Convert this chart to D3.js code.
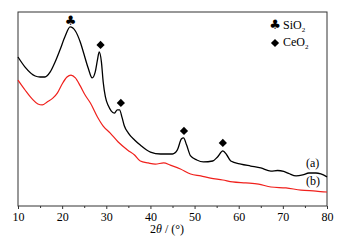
<!DOCTYPE html>
<html>
<head>
<meta charset="utf-8">
<script src="https://cdn.jsdelivr.net/npm/d3@7"></script>
<style>
	body { margin: 0; background: #fff; }
	text { font-family: "Liberation Serif", "Times New Roman", serif; fill: #000; }
</style>
</head>
<body>
<div id="chart"></div>
<script>
// 2theta (deg) vs intensity (a.u.)
const curveA = [
	[10, 76.8], [11.6, 71.6], [13.9, 67.0], [15.0, 66.5], [16.1, 66.5], [17.3, 69.1],
	[18.4, 74.2], [19.5, 80.4], [20.7, 87.6], [21.8, 92.3], [23.0, 90.2], [24.1, 84.5],
	[24.8, 79.4], [25.9, 71.1], [26.8, 66.0], [27.5, 69.1], [28.0, 75.3], [28.4, 79.4],
	[28.9, 74.2], [29.3, 63.9], [29.8, 56.2], [30.5, 51.5], [31.1, 49.0], [31.8, 47.9],
	[32.5, 49.5], [33.0, 49.5], [33.6, 45.4], [34.1, 41.2], [35.0, 37.6], [36.4, 34.0],
	[37.7, 31.4], [40.0, 27.8], [42.3, 26.8], [45.0, 26.8], [46.1, 28.9], [47.0, 34.5],
	[47.5, 35.1], [48.2, 31.4], [49.1, 25.8], [50.5, 23.7], [52.0, 22.7], [54.1, 23.2],
	[55.2, 25.3], [56.4, 28.4], [57.3, 26.3], [58.2, 23.2], [60.5, 21.6], [62.7, 20.6],
	[65.0, 19.6], [67.3, 18.0], [68.8, 18.3], [70.2, 17.8], [71.3, 16.8], [73.0, 15.5],
	[74.5, 16.0], [75.9, 17.0], [77.5, 17.0], [78.6, 16.5], [80.0, 15.0]
]
const curveB = [
	[10, 64.9], [11.6, 59.8], [13.2, 55.2], [14.5, 52.6], [15.5, 52.1], [16.6, 53.6],
	[17.95, 55.7], [18.9, 58.2], [20.0, 62.9], [21.1, 66.5], [22.0, 67.5], [23.0, 66.0],
	[24.1, 61.9], [25.2, 57.2], [26.4, 53.1], [28.0, 45.9], [29.3, 41.2], [30.9, 37.6],
	[32.7, 33.0], [34.8, 28.9], [36.4, 26.3], [37.7, 23.2], [39.5, 22.2], [41.1, 21.6],
	[43.0, 22.2], [44.5, 21.1], [46.8, 19.1], [49.1, 16.5], [51.4, 15.5], [53.6, 14.4],
	[56.4, 13.4], [58.6, 12.4], [61.6, 11.9], [64.5, 11.3], [67.3, 9.8], [70.7, 9.3],
	[74.1, 8.2], [77.5, 7.7], [80.0, 7.2]
]
const sio2Peaks = [[21.9, 95.4]]
const ceo2Peaks = [[28.7, 83.0], [33.3, 53.1], [47.6, 38.7], [56.4, 32.5]]
const xTicks = [10, 20, 30, 40, 50, 60, 70, 80]
const xMinorTicks = [15, 25, 35, 45, 55, 65, 75]

const margin = { top: 12, right: 15, bottom: 35, left: 18 }
const width = 342 - margin.left - margin.right
const height = 241 - margin.top - margin.bottom

const svg = d3.select("#chart")
	.append("svg")
	.attr("width", 342)
	.attr("height", 241)
	.append("g")
	.attr("transform", `translate(${margin.left},${margin.top})`)

const x = d3.scaleLinear().domain([10, 80]).range([0, width])
const y = d3.scaleLinear().domain([0, 100]).range([height, 0])

// frame
svg.append("rect")
	.attr("width", width)
	.attr("height", height)
	.attr("fill", "none")
	.attr("stroke", "#333")
	.attr("stroke-width", 1)

// bottom axis
const xAxis = svg.append("g")
	.attr("transform", `translate(0,${height})`)
	.call(d3.axisBottom(x).tickValues(xTicks).tickSize(3).tickPadding(3).tickFormat(d3.format("d")))
xAxis.select(".domain").remove()
xAxis.selectAll("line").attr("stroke", "#333")
xAxis.selectAll("text")
	.style("font-family", '"Liberation Serif", serif')
	.style("font-size", "12px")
	.attr("fill", "#000")

svg.append("g")
	.attr("transform", `translate(0,${height})`)
	.call(d3.axisBottom(x).tickValues(xMinorTicks).tickSize(2).tickFormat(""))
	.call((g) => g.select(".domain").remove())
	.selectAll("line").attr("stroke", "#333")

// axis title
const title = svg.append("text")
	.attr("x", 167 - margin.left)
	.attr("y", height + 27)
	.attr("text-anchor", "middle")
	.style("font-size", "12px")
title.append("tspan").text("2")
title.append("tspan").style("font-style", "italic").text("θ")
title.append("tspan").text(" / (°)")

const line = d3.line()
	.x((d) => x(d[0]))
	.y((d) => y(d[1]))
	.curve(d3.curveMonotoneX)

svg.append("path")
	.datum(curveB)
	.attr("fill", "none")
	.attr("stroke", "#f0201c")
	.attr("stroke-width", 1.2)
	.attr("d", line)

svg.append("path")
	.datum(curveA)
	.attr("fill", "none")
	.attr("stroke", "#000")
	.attr("stroke-width", 1.3)
	.attr("d", line)

// peak markers
svg.selectAll(".club")
	.data(sio2Peaks)
	.enter()
	.append("text")
	.attr("x", (d) => x(d[0]))
	.attr("y", (d) => y(d[1]) + 4)
	.attr("text-anchor", "middle")
	.style("font-family", '"DejaVu Sans", sans-serif')
	.style("font-size", "13px")
	.text("♣")

const diamond = d3.symbol().type(d3.symbolSquare).size(34)
svg.selectAll(".diamond")
	.data(ceo2Peaks)
	.enter()
	.append("path")
	.attr("d", diamond)
	.attr("transform", (d) => `translate(${x(d[0])},${y(d[1])}) rotate(45)`)
	.attr("fill", "#000")

// legend
const legend = svg.append("g").attr("transform", `translate(${275 - margin.left},0)`)
legend.append("text")
	.attr("x", 0)
	.attr("y", 17)
	.attr("text-anchor", "middle")
	.style("font-family", '"DejaVu Sans", sans-serif')
	.style("font-size", "13px")
	.text("♣")
const l1 = legend.append("text").attr("x", 8).attr("y", 17).style("font-size", "12px")
l1.append("tspan").text("SiO")
l1.append("tspan").attr("dy", 3).style("font-size", "7px").text("2")
legend.append("path")
	.attr("d", diamond)
	.attr("transform", `translate(0,31) rotate(45)`)
	.attr("fill", "#000")
const l2 = legend.append("text").attr("x", 8).attr("y", 34).style("font-size", "12px")
l2.append("tspan").text("CeO")
l2.append("tspan").attr("dy", 3).style("font-size", "7px").text("2")

// curve labels
svg.append("text")
	.attr("x", 306 - margin.left)
	.attr("y", y(20.1))
	.style("font-size", "12px")
	.text("(a)")
svg.append("text")
	.attr("x", 306 - margin.left)
	.attr("y", y(10.8))
	.style("font-size", "12px")
	.text("(b)")
</script>
</body>
</html>
